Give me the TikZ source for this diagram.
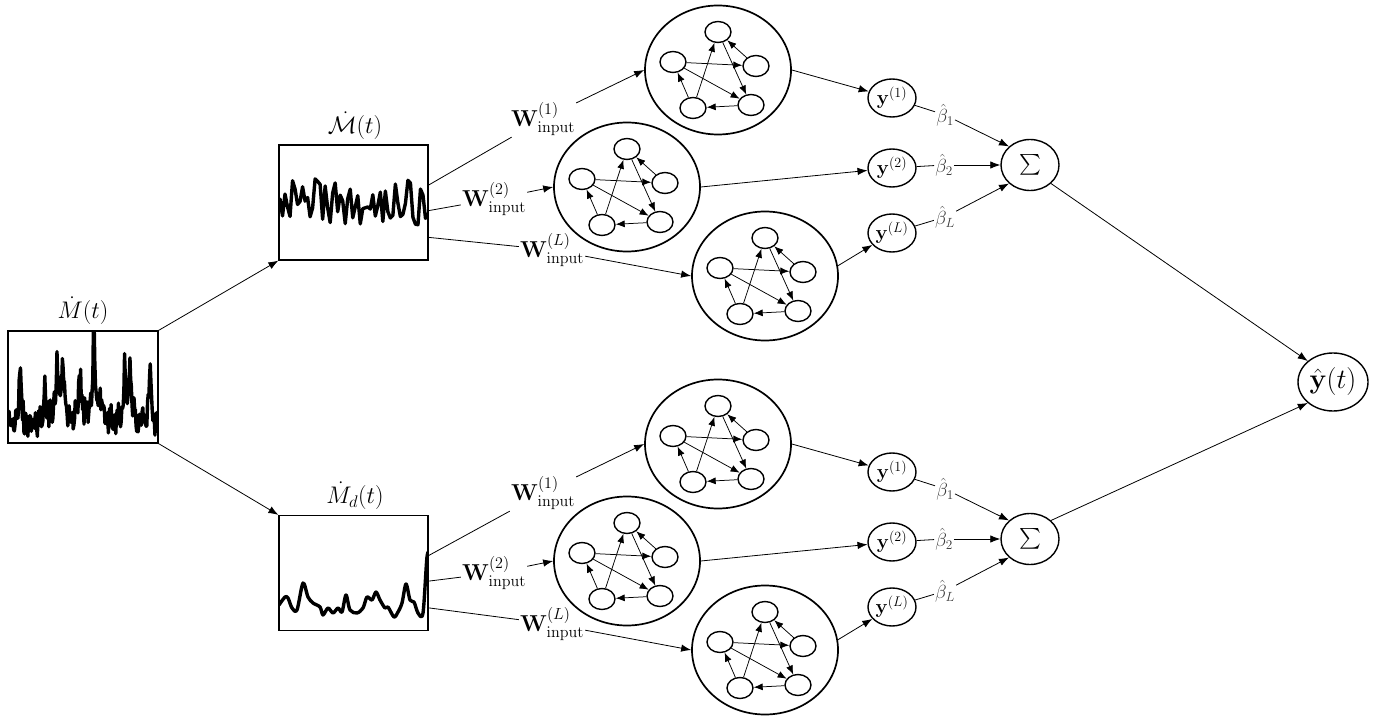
\RequirePackage{fix-cm}
\documentclass[tikz,border=0pt]{standalone}
\usepackage{exscale}
\usetikzlibrary{shapes.geometric,arrows.meta,calc}
\tikzset{
  every node/.style={font=\fontsize{23}{27}\selectfont},
  resv/.style={ellipse,draw,line width=1.7pt,minimum width=146pt,minimum height=129pt,inner sep=0pt},
  inn/.style={ellipse,draw,line width=1.4pt,minimum width=26pt,minimum height=21pt,inner sep=0pt},
  iarr/.style={-{Latex[length=9pt,width=7pt]},line width=0.75pt},
  conn/.style={line width=0.8pt},
  arr/.style={conn,-{Latex[length=10pt,width=7.5pt]}},
  ynode/.style={ellipse,draw,line width=1.4pt,minimum width=48pt,minimum height=38pt,inner sep=0pt,font=\fontsize{20}{24}\selectfont},
  signode/.style={ellipse,draw,line width=1.4pt,minimum width=58pt,minimum height=51pt,inner sep=0pt,font=\fontsize{22}{26}\selectfont},
  outnode/.style={ellipse,draw,line width=1.4pt,minimum width=70pt,minimum height=58pt,inner sep=0pt,font=\fontsize{28}{32}\selectfont},
  databox/.style={draw,line width=1.2pt,minimum width=149pt,minimum height=115pt,inner sep=0pt},
  leftbox/.style={draw,line width=1.2pt,minimum width=150pt,minimum height=112pt,inner sep=0pt},
  wlab/.style={inner sep=1pt},
  boxlab/.style={inner sep=1pt,font=\fontsize{24}{28}\selectfont},
  blab/.style={text=black!78,inner sep=1pt,font=\fontsize{19}{22}\selectfont},
  serie/.style={line width=3.4pt,line join=round,line cap=round}
}
\newcommand\myres[2]{%
  \node[resv] (#1) at (#2) {};
  \begin{scope}[shift={(#2)}]
    \node[inn] (#1t) at (0,-38) {};
    \node[inn] (#1l) at (-45,-8) {};
    \node[inn] (#1r) at (38,-4) {};
    \node[inn] (#1a) at (-25,38) {};
    \node[inn] (#1b) at (33,35) {};
  \end{scope}
  \draw[iarr] (#1l) -- (#1r);
  \draw[iarr] (#1r) -- (#1t);
  \draw[iarr] (#1t) -- (#1b);
  \draw[iarr] (#1l) -- (#1b);
  \draw[iarr] (#1a) -- (#1t);
  \draw[iarr] (#1a) -- (#1l);
  \draw[iarr] (#1b) -- (#1a);
}
\newcommand\pk[3]{-#2/(1+((\x-#1)/10)*((\x-#1)/10)*(100/#3))}
\newcommand\mygroupbody{%
  \coordinate (o1) at ($(box.north east)!0.35!(box.south east)$);
  \coordinate (o2) at ($(box.north east)!0.57!(box.south east)$);
  \coordinate (o3) at ($(box.north east)!0.80!(box.south east)$);
  \node[wlab] (w1) at (543,119) {$\mathbf{W}^{(1)}_{\mathrm{input}}$};
  \node[wlab] (w2) at (494,199) {$\mathbf{W}^{(2)}_{\mathrm{input}}$};
  \node[wlab] (wL) at (552,250) {$\mathbf{W}^{(L)}_{\mathrm{input}}$};
  \myres{ra}{718,70}
  \myres{rb}{627,187}
  \myres{rc}{765,276}
  \node[ynode] (y1) at (892,98) {$\mathbf{y}^{(1)}$};
  \node[ynode] (y2) at (892,168) {$\mathbf{y}^{(2)}$};
  \node[ynode] (yL) at (892,233) {$\mathbf{y}^{(L)}$};
  \node[signode] (sum) at (1030,165) {$\sum$};
  \node[blab] (b1) at (945,115) {$\hat{\beta}_1$};
  \node[blab] (b2) at (944,165) {$\hat{\beta}_2$};
  \node[blab] (bL) at (945,217) {$\hat{\beta}_L$};
  \draw[conn] (o1) -- (w1); \draw[arr] (w1) -- (ra.west);
  \draw[conn] (o2) -- (w2); \draw[arr] (w2) -- (rb.west);
  \draw[conn] (o3) -- (wL); \draw[arr] (wL) -- (rc.west);
  \draw[arr] (ra.east) -- (y1);
  \draw[arr] (rb.east) -- (y2);
  \draw[arr] (rc.8) -- (yL);
  \draw[conn] (y1) -- (b1); \draw[arr] (b1) -- (sum.north west);
  \draw[conn] (y2) -- (b2); \draw[arr] (b2) -- (sum.west);
  \draw[conn] (yL) -- (bL); \draw[arr] (bL) -- (sum.south west);
}
\begin{document}
\begin{tikzpicture}[x=1pt,y=-1pt]
\useasboundingbox (0,0) rectangle (1387,719);
\pgfmathsetseed{31415}
% left box
\node[leftbox] (lbox) at (83,387) {};
\node[boxlab] (llab) at (83,311) {$\dot{M}(t)$};
\begin{scope}
  \clip (lbox.south west) rectangle (lbox.north east);
  \draw[serie] plot[domain=9:157,samples=220]
   (\x,{440-30*rnd \pk{20}{50}{2} \pk{45}{30}{2} \pk{57}{46}{2} \pk{63}{52}{2}
        \pk{80}{40}{3} \pk{94}{84}{1.6} \pk{100}{22}{3} \pk{125}{48}{2}
        \pk{130}{40}{2} \pk{150}{46}{2} \pk{60}{14}{60} \pk{95}{14}{40} \pk{128}{12}{40}});
\end{scope}
% output
\node[outnode] (out) at (1333,382) {$\hat{\mathbf{y}}(t)$};
% top group
\begin{scope}[name prefix=t-]
  \node[databox] (box) at (353.5,202.5) {};
  \node[boxlab] (blab) at (355,126) {$\dot{\mathcal{M}}(t)$};
  \begin{scope}
    \clip (box.south west) rectangle (box.north east);
    \draw[serie] plot[domain=280:428,samples=60] (\x,{204+22*rand+32*rand*rand*rand});
  \end{scope}
  \mygroupbody
\end{scope}
% bottom group
\begin{scope}[yshift=-374pt,name prefix=b-]
  \node[databox] (box) at (353.5,199) {};
  \node[boxlab] (blab) at (355,122) {$\dot{M}_d(t)$};
  \begin{scope}
    \clip (box.south west) rectangle (box.north east);
    \begin{scope}[yshift=374pt]
    \draw[serie] plot[smooth,tension=0.5] coordinates {(279,605) (285,597) (288,598) (292,608)
      (297,610) (303,583) (308,597) (313,603) (320,607) (323,615) (328,608) (333,613)
      (338,608) (342,612) (346,595) (350,610) (357,613) (363,608) (367,597) (372,600)
      (376,592) (380,600) (385,608) (388,607) (394,617) (398,612) (402,603) (406,584)
      (410,600) (414,602) (418,613) (423,613) (427,557) (430,552)};
    \end{scope}
  \end{scope}
  \mygroupbody
\end{scope}
\draw[arr] (lbox.north east) -- (t-box.south west);
\draw[arr] (lbox.south east) -- (b-box.north west);
\draw[arr] (t-sum.south east) -- (out.north west);
\draw[arr] (b-sum.north east) -- (out.south west);
\end{tikzpicture}
\end{document}
